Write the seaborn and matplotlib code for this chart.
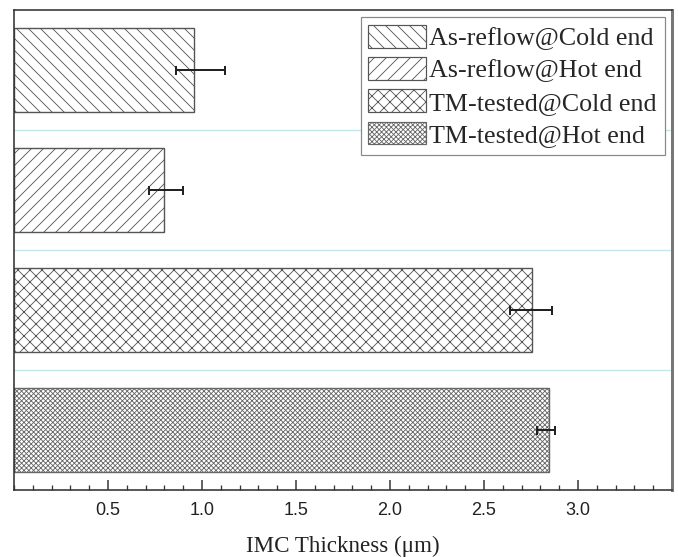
import matplotlib
matplotlib.use("Agg")
import matplotlib.pyplot as plt
import seaborn as sns
import pandas as pd
import numpy as np
from matplotlib.patches import Patch
from matplotlib.ticker import MultipleLocator

categories = ["As-reflow@Cold end", "As-reflow@Hot end", "TM-tested@Cold end", "TM-tested@Hot end"]
thickness = [0.96, 0.80, 2.755, 2.845]
err_low = [0.10, 0.08, 0.115, 0.065]
err_high = [0.16, 0.10, 0.105, 0.035]
hatches = ["\\\\", "//", "xx", "xxxxx"]
edge_colors = ["#555555", "#555555", "#555555", "#666666"]
xtick_values = [0.5, 1.0, 1.5, 2.0, 2.5, 3.0]

sns.set_style("white")
plt.rcParams["hatch.linewidth"] = 0.85
plt.rcParams["font.family"] = ["Liberation Serif", "DejaVu Serif"]

DPI = 72
fig = plt.figure(figsize=(678 / DPI, 557 / DPI), dpi=DPI)
ax = fig.add_axes([14 / 678, 1 - 490 / 557, (672 - 14) / 678, (490 - 10) / 557])

df = pd.DataFrame({"cat": categories, "val": thickness})
sns.barplot(data=df, x="val", y="cat", orient="h", width=0.7, color="white",
            edgecolor="#555555", linewidth=1.4, ax=ax, errorbar=None, zorder=2)

for patch, h, ec in zip(ax.patches, hatches, edge_colors):
    patch.set_hatch(h)
    patch.set_facecolor("white")
    patch.set_edgecolor(ec)

ypos = np.arange(len(categories))
ax.errorbar(thickness, ypos, xerr=[err_low, err_high], fmt="none",
            ecolor="#222222", elinewidth=2, capsize=4.5, capthick=2, zorder=3)

for y in [0.5, 1.5, 2.5]:
    ax.axhline(y, color="#b5eef2", lw=1.4, zorder=1)

ax.set_xlim(0, 3.5)
ax.set_ylim(3.5, -0.5)
ax.set_xticks(xtick_values)
ax.set_xticklabels([f"{v:.1f}" for v in xtick_values], family=["Liberation Sans", "DejaVu Sans"], fontsize=18, color="#222222")
ax.xaxis.set_minor_locator(MultipleLocator(0.1))
ax.tick_params(axis="x", which="major", direction="in", length=10, width=1.5, color="#333333", pad=12, bottom=True)
ax.tick_params(axis="x", which="minor", direction="in", length=5, width=1.3, color="#333333", bottom=True)
ax.set_yticks([])
ax.set_ylabel("")
ax.set_xlabel("IMC Thickness (μm)", fontsize=23, color="#222222", labelpad=17)

for side, sp in ax.spines.items():
    sp.set_visible(True)
    sp.set_color("#333333")
    sp.set_linewidth(1.6)
ax.spines["right"].set_color("#777777")
ax.spines["right"].set_linewidth(3)

handles = [Patch(facecolor="white", edgecolor=ec, hatch=h, linewidth=1.2) for h, ec in zip(hatches, edge_colors)]
leg = ax.legend(handles, categories, loc="upper right", fontsize=26, frameon=True,
                fancybox=False, edgecolor="#888888", framealpha=1,
                handlelength=2.2, handleheight=0.95, labelspacing=0.27,
                handletextpad=0.15, borderpad=0.3, borderaxespad=0.28)
leg.get_frame().set_linewidth(1.2)
leg.set_zorder(5)

fig.savefig("out.png", dpi=DPI)
